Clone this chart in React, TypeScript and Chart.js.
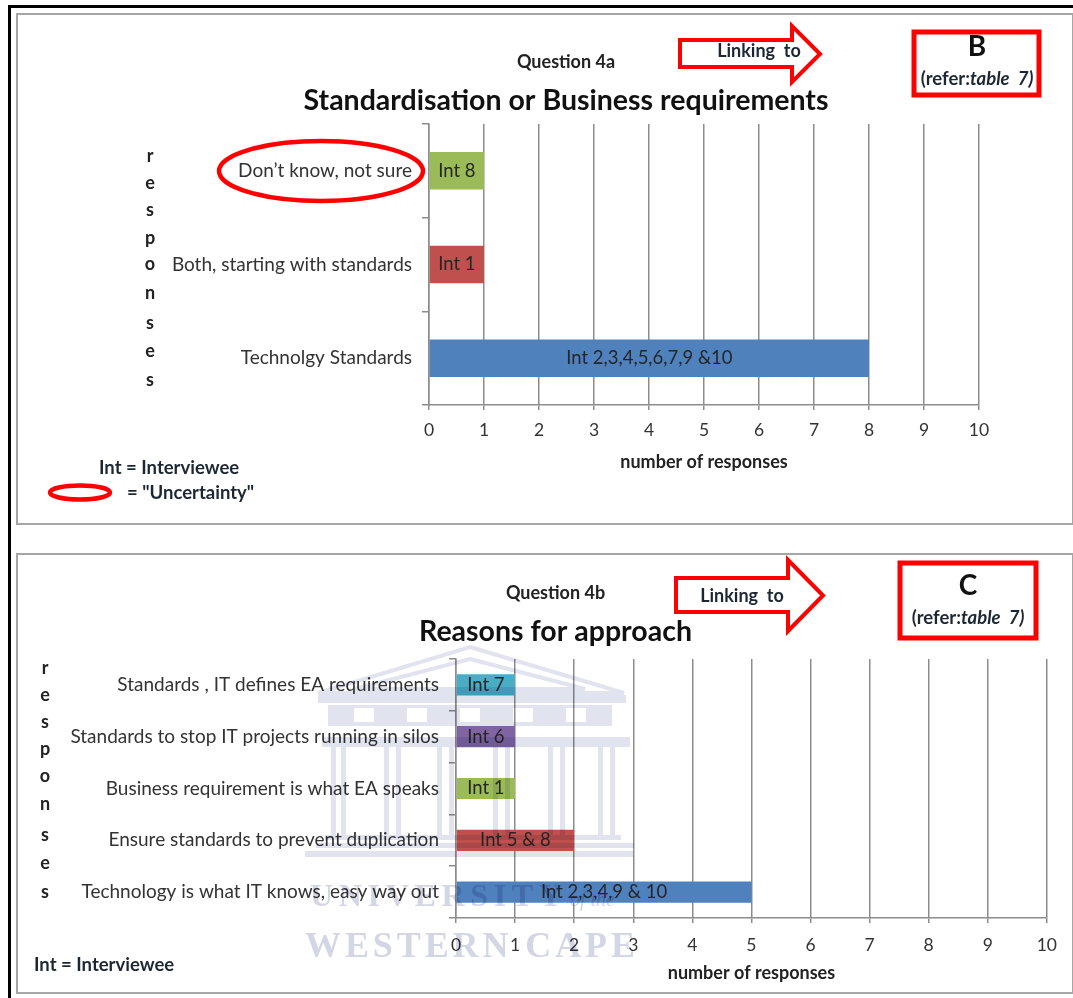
import React, { useEffect, useRef } from "react";
import { Chart, registerables } from "chart.js";

Chart.register(...registerables);

// Question 4a
const answersA = ["Don’t know, not sure", "Both, starting with standards", "Technolgy Standards"];
const countsA = [1, 1, 8];
const intervieweesA = ["Int 8", "Int 1", "Int 2,3,4,5,6,7,9 &10"];
const coloursA = ["#9bbb59", "#c0504d", "#4f81bd"];

// Question 4b
const answersB = [
  "Standards , IT defines EA requirements",
  "Standards to stop IT projects running in silos",
  "Business requirement is what EA speaks",
  "Ensure standards to prevent duplication",
  "Technology is what IT knows, easy way out",
];
const countsB = [1, 1, 1, 2, 5];
const intervieweesB = ["Int 7", "Int 6", "Int 1", "Int 5 & 8", "Int 2,3,4,9 & 10"];
const coloursB = ["#4bacc6", "#8064a2", "#9bbb59", "#c0504d", "#4f81bd"];

const yAxisLetters = ["r", "e", "s", "p", "o", "n", "s", "e", "s"];
const lettersTopA = [155, 182, 209, 237, 263, 292, 322, 350, 379];
const lettersTopB = [667, 694, 721, 748, 775, 803, 834, 862, 891];

const FONT = "Lato, 'Open Sans', sans-serif";
const AXIS_GREY = "#8c8c8c";
const TEXT = "#333333";

// Writes each interviewee tag in the middle of its bar.
const barTagsPlugin = {
  id: "barTags",
  afterDatasetsDraw(chart: any, _args: any, opts: any) {
    const { ctx } = chart;
    const bars = chart.getDatasetMeta(0).data;
    ctx.save();
    ctx.font = `${opts.size}px ${FONT}`;
    ctx.fillStyle = "#262626";
    ctx.textAlign = "center";
    ctx.textBaseline = "middle";
    bars.forEach((bar: any, i: number) => {
      ctx.fillText(opts.tags[i], (bar.x + bar.base) / 2, bar.y);
    });
    ctx.restore();
  },
};

type PanelSpec = {
  answers: string[];
  counts: number[];
  tags: string[];
  colours: string[];
  question: string;
  title: string;
  plotTop: number;
  plotLeft: number;
  plotRightPad: number;
  axisHeight: number;
  questionY: number;
  titleY: number;
  barShare: number;
  tickPad: number;
  axisTitleBottom: number;
};

function buildConfig(p: PanelSpec): any {
  const subLine = 18;
  const titleLine = 28;
  const subPadTop = p.questionY - subLine / 2;
  const titlePadTop = p.titleY - p.questionY - subLine / 2 - titleLine / 2;
  const titlePadBottom = p.plotTop - p.titleY - titleLine / 2;
  return {
    type: "bar",
    data: {
      labels: p.answers,
      datasets: [
        {
          data: p.counts,
          backgroundColor: p.colours,
          barPercentage: p.barShare,
          categoryPercentage: 1,
        },
      ],
    },
    plugins: [barTagsPlugin],
    options: {
      indexAxis: "y",
      animation: false,
      responsive: false,
      layout: { padding: { top: 0, left: 0, right: p.plotRightPad, bottom: 0 } },
      plugins: {
        legend: { display: false },
        tooltip: { enabled: false },
        barTags: { tags: p.tags, size: 18.5 },
        subtitle: {
          display: true,
          text: p.question,
          weight: 3000,
          color: "#222222",
          font: { family: FONT, size: 18, weight: "bold", lineHeight: 1 },
          padding: { top: subPadTop, bottom: 0 },
        },
        title: {
          display: true,
          text: p.title,
          color: "#111111",
          font: { family: FONT, size: 28.5, weight: "bold", lineHeight: titleLine / 28.5 },
          padding: { top: titlePadTop, bottom: titlePadBottom },
        },
      },
      scales: {
        x: {
          min: 0,
          max: 10,
          afterFit(scale: any) {
            scale.height = p.axisHeight;
          },
          ticks: {
            stepSize: 1,
            color: TEXT,
            padding: p.tickPad,
            maxRotation: 0,
            font: { family: FONT, size: 17.5 },
          },
          grid: { color: AXIS_GREY, lineWidth: 1.5, tickLength: 5 },
          border: { color: AXIS_GREY, width: 1.5 },
          title: {
            display: true,
            text: "number of responses",
            color: "#222222",
            font: { family: FONT, size: 18, weight: "bold", lineHeight: 1 },
            padding: { top: 0, bottom: p.axisTitleBottom },
          },
        },
        y: {
          afterFit(scale: any) {
            scale.width = p.plotLeft;
          },
          ticks: {
            autoSkip: false,
            color: TEXT,
            padding: 10,
            font: { family: FONT, size: 19 },
          },
          grid: { drawOnChartArea: false, color: AXIS_GREY, lineWidth: 1.5, tickLength: 7 },
          border: { color: AXIS_GREY, width: 1.5 },
        },
      },
    },
  };
}

const panelA: PanelSpec = {
  answers: answersA,
  counts: countsA,
  tags: intervieweesA,
  colours: coloursA,
  question: "Question 4a",
  title: "Standardisation or Business requirements",
  plotTop: 110,
  plotLeft: 276,
  plotRightPad: 43,
  axisHeight: 75,
  questionY: 48,
  titleY: 87,
  barShare: 0.4,
  tickPad: 10,
  axisTitleBottom: 9,
};

const panelB: PanelSpec = {
  answers: answersB,
  counts: countsB,
  tags: intervieweesB,
  colours: coloursB,
  question: "Question 4b",
  title: "Reasons for approach",
  plotTop: 104,
  plotLeft: 392,
  plotRightPad: 22,
  axisHeight: 72,
  questionY: 38,
  titleY: 77,
  barShare: 0.41,
  tickPad: 12,
  axisTitleBottom: 8,
};

function ChartPanel({ spec, left, top, width, height }: { spec: PanelSpec; left: number; top: number; width: number; height: number }) {
  const ref = useRef<HTMLCanvasElement | null>(null);
  useEffect(() => {
    const chart = new Chart(ref.current as HTMLCanvasElement, buildConfig(spec));
    return () => chart.destroy();
  }, [spec]);
  return <canvas ref={ref} width={width} height={height} style={{ position: "absolute", left, top, width, height }} />;
}

function Note({ x, y, size, bold, anchor, color, children }: any) {
  return (
    <text
      x={x}
      y={y}
      fontSize={size}
      fontWeight={bold ? "bold" : "normal"}
      textAnchor={anchor || "start"}
      dominantBaseline="central"
      fontFamily={FONT}
      fill={color || "#1c2733"}
    >
      {children}
    </text>
  );
}

// Block arrow outline: x0 tail, xh start of head, xt tip, body and head extents.
function arrowPoints(x0: number, xh: number, xt: number, by0: number, by1: number, hy0: number, hy1: number) {
  const mid = (hy0 + hy1) / 2;
  return `${x0},${by0} ${xh},${by0} ${xh},${hy0} ${xt},${mid} ${xh},${hy1} ${xh},${by1} ${x0},${by1}`;
}

const RED = "#ff0000";

function Annotations() {
  return (
    <svg width={1073} height={998} style={{ position: "absolute", left: 0, top: 0 }}>
      {/* vertical axis captions */}
      {yAxisLetters.map((c, i) => (
        <Note key={`a${i}`} x={150} y={lettersTopA[i]} size={18} bold anchor="middle" color="#222">
          {c}
        </Note>
      ))}
      {yAxisLetters.map((c, i) => (
        <Note key={`b${i}`} x={45} y={lettersTopB[i]} size={18} bold anchor="middle" color="#222">
          {c}
        </Note>
      ))}

      {/* upper panel call-outs */}
      <ellipse cx={321} cy={171} rx={102} ry={30} fill="none" stroke={RED} strokeWidth={4.5} />
      <polygon points={arrowPoints(680, 792, 820, 40, 67, 26, 82)} fill="none" stroke={RED} strokeWidth={4} />
      <Note x={759} y={50} size={18} bold anchor="middle">Linking&nbsp; to</Note>
      <rect x={914} y={32} width={125} height={63} fill="none" stroke={RED} strokeWidth={5} />
      <Note x={977} y={45} size={28} bold anchor="middle" color="#111">B</Note>
      <Note x={977} y={78} size={18.5} bold anchor="middle">
        (refer:<tspan fontStyle="italic">table&nbsp; 7)</tspan>
      </Note>
      <Note x={99} y={467} size={18.5} bold>Int = Interviewee</Note>
      <ellipse cx={80} cy={492.5} rx={30} ry={7} fill="none" stroke={RED} strokeWidth={4.5} />
      <Note x={127} y={492} size={18.5} bold>= "Uncertainty"</Note>

      {/* lower panel call-outs */}
      <polygon points={arrowPoints(676, 788, 823, 578, 612, 560, 631)} fill="none" stroke={RED} strokeWidth={4} />
      <Note x={742} y={595} size={18} bold anchor="middle">Linking&nbsp; to</Note>
      <rect x={900} y={563} width={136} height={75} fill="none" stroke={RED} strokeWidth={5} />
      <Note x={968} y={584} size={28} bold anchor="middle" color="#111">C</Note>
      <Note x={968} y={617} size={18.5} bold anchor="middle">
        (refer:<tspan fontStyle="italic">table&nbsp; 7)</tspan>
      </Note>
      <Note x={34} y={964} size={18.5} bold>Int = Interviewee</Note>
    </svg>
  );
}

// Faint university crest laid over the lower panel.
const columnXs = [331, 341, 384, 396, 437, 449, 493, 505, 548, 560, 598, 610];
const friezeGaps = [354, 407, 460, 513, 566];

function Crest() {
  const tint = "#e1e4ef";
  return (
    <svg width={1073} height={998} style={{ position: "absolute", left: 0, top: 0, mixBlendMode: "multiply" }}>
      <g fill="none" stroke={tint} strokeWidth={4}>
        <polygon points="470,647 624,693 318,693" />
        <polygon points="470,659 585,689 355,689" />
      </g>
      <g fill={tint}>
        <rect x={318} y={695} width={308} height={8} />
        <rect x={328} y={705} width={284} height={21} />
        <rect x={322} y={737} width={308} height={10} />
        <rect x={325} y={835} width={296} height={5} />
        <rect x={316} y={843} width={318} height={5} />
        <rect x={305} y={851} width={328} height={6} />
      </g>
      <g fill="#ffffff">
        {friezeGaps.map((x) => (
          <rect key={x} x={x} y={708} width={20} height={14} />
        ))}
      </g>
      <g fill={tint}>
        {columnXs.map((x) => (
          <rect key={x} x={x} y={747} width={5} height={90} />
        ))}
      </g>
      <text x={310} y={906} fontFamily="'Liberation Serif', serif" fontWeight="bold" fontSize={32} fill="#d3d6e4" textLength={252} lengthAdjust="spacing">
        UNIVERSITY
      </text>
      <text x={570} y={906} fontFamily="'Liberation Serif', serif" fontStyle="italic" fontSize={20} fill="#d3d6e4">
        of the
      </text>
      <text x={305} y={957} fontFamily="'Liberation Serif', serif" fontWeight="bold" fontSize={36} fill="#d3d6e4" textLength={330} lengthAdjust="spacing">
        WESTERN CAPE
      </text>
    </svg>
  );
}

export default function App() {
  return (
    <div style={{ position: "absolute", left: 0, top: 0, width: 1073, height: 998, overflow: "hidden", background: "#fff" }}>
      <div style={{ position: "absolute", left: 8, top: 5, width: 1065, height: 3, background: "#000" }} />
      <div style={{ position: "absolute", left: 8, top: 5, width: 3, height: 993, background: "#000" }} />
      <div style={{ position: "absolute", left: 16, top: 13, width: 1054, height: 508, border: "2px solid #a6a6a6" }} />
      <div style={{ position: "absolute", left: 16, top: 553, width: 1054, height: 437, border: "2px solid #a6a6a6" }} />
      <ChartPanel spec={panelA} left={153} top={14} width={869} height={466} />
      <ChartPanel spec={panelB} left={64} top={555} width={1005} height={435} />
      <Crest />
      <Annotations />
    </div>
  );
}
